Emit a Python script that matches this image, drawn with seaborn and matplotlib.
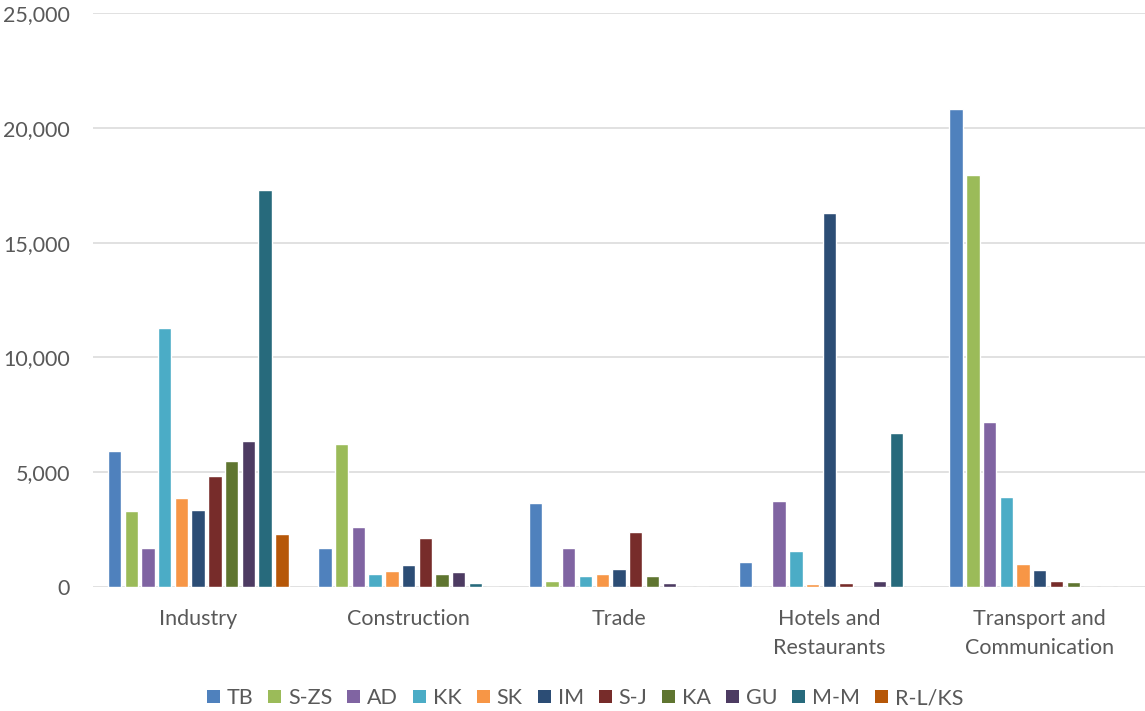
import matplotlib
matplotlib.use("Agg")
import matplotlib.pyplot as plt
from matplotlib.ticker import FuncFormatter, MultipleLocator
from matplotlib.patches import Patch
import pandas as pd
import seaborn as sns

sectors = ["Industry", "Construction", "Trade", "Hotels and\nRestaurants",
           "Transport and\nCommunication"]
regions = ["TB", "S-ZS", "AD", "KK", "SK", "IM", "S-J", "KA", "GU", "M-M", "R-L/KS"]

tb = [5920, 1700, 3650, 1070, 20800]
s_zs = [3310, 6210, 260, 0, 17950]
ad = [1710, 2600, 1700, 3740, 7170]
kk = [11300, 550, 480, 1570, 3920]
sk = [3880, 700, 550, 140, 1000]
im = [3350, 970, 770, 16280, 740]
s_j = [4830, 2130, 2400, 170, 260]
ka = [5490, 570, 490, 0, 220]
gu = [6370, 670, 160, 260, 0]
m_m = [17280, 170, 0, 6710, 0]
rl_ks = [2310, 0, 0, 0, 0]

series = [tb, s_zs, ad, kk, sk, im, s_j, ka, gu, m_m, rl_ks]
colors = ["#4F81BD", "#9BBB59", "#8064A2", "#4BACC6", "#F79646", "#2C4D75",
          "#772C2A", "#5F7530", "#4D3B62", "#276A7C", "#B65708"]

rows = []
for reg, vals in zip(regions, series):
    for sec, v in zip(sectors, vals):
        rows.append({"sector": sec, "region": reg, "value": v})
df = pd.DataFrame(rows)

sns.set_theme(style="white")
plt.rcParams["font.family"] = ["Lato", "DejaVu Sans"]
text_color = "#595959"
grid_color = "#D9D9D9"
fs = 15.5

fig = plt.figure(figsize=(11.45, 7.11), dpi=100)
ax = fig.add_axes([0.0812, 0.1744, 0.9188, 0.8073])

sns.barplot(data=df, x="sector", y="value", hue="region", order=sectors,
            hue_order=regions, palette=colors, width=0.875, gap=0.2,
            saturation=1, errorbar=None, ax=ax, legend=False, zorder=3)

ax.set_ylim(0, 25000)
ax.set_xlim(-0.5, 4.5)
ax.yaxis.set_major_locator(MultipleLocator(5000))
ax.yaxis.set_major_formatter(FuncFormatter(lambda v, p: f"{int(v):,}"))
ax.grid(axis="y", color=grid_color, linewidth=1.1, zorder=0)
ax.set_axisbelow(True)
for s in ax.spines.values():
    s.set_visible(False)
ax.set_xlabel("")
ax.set_ylabel("")
ax.tick_params(axis="y", length=0, pad=16.5, labelsize=fs, labelcolor=text_color)
ax.tick_params(axis="x", length=0, pad=16, labelsize=fs, labelcolor=text_color)
for lab in ax.get_xticklabels():
    lab.set_linespacing(1.55)

handles = [Patch(facecolor=c, edgecolor="none") for c in colors]
fig.legend(handles, regions, loc="center", bbox_to_anchor=(0.511, 0.018),
           ncol=len(regions), frameon=False, fontsize=fs,
           handlelength=0.6, handleheight=0.6, handletextpad=0.33,
           columnspacing=0.69, labelcolor=text_color)

fig.savefig("out.png", dpi=100, facecolor="white")
